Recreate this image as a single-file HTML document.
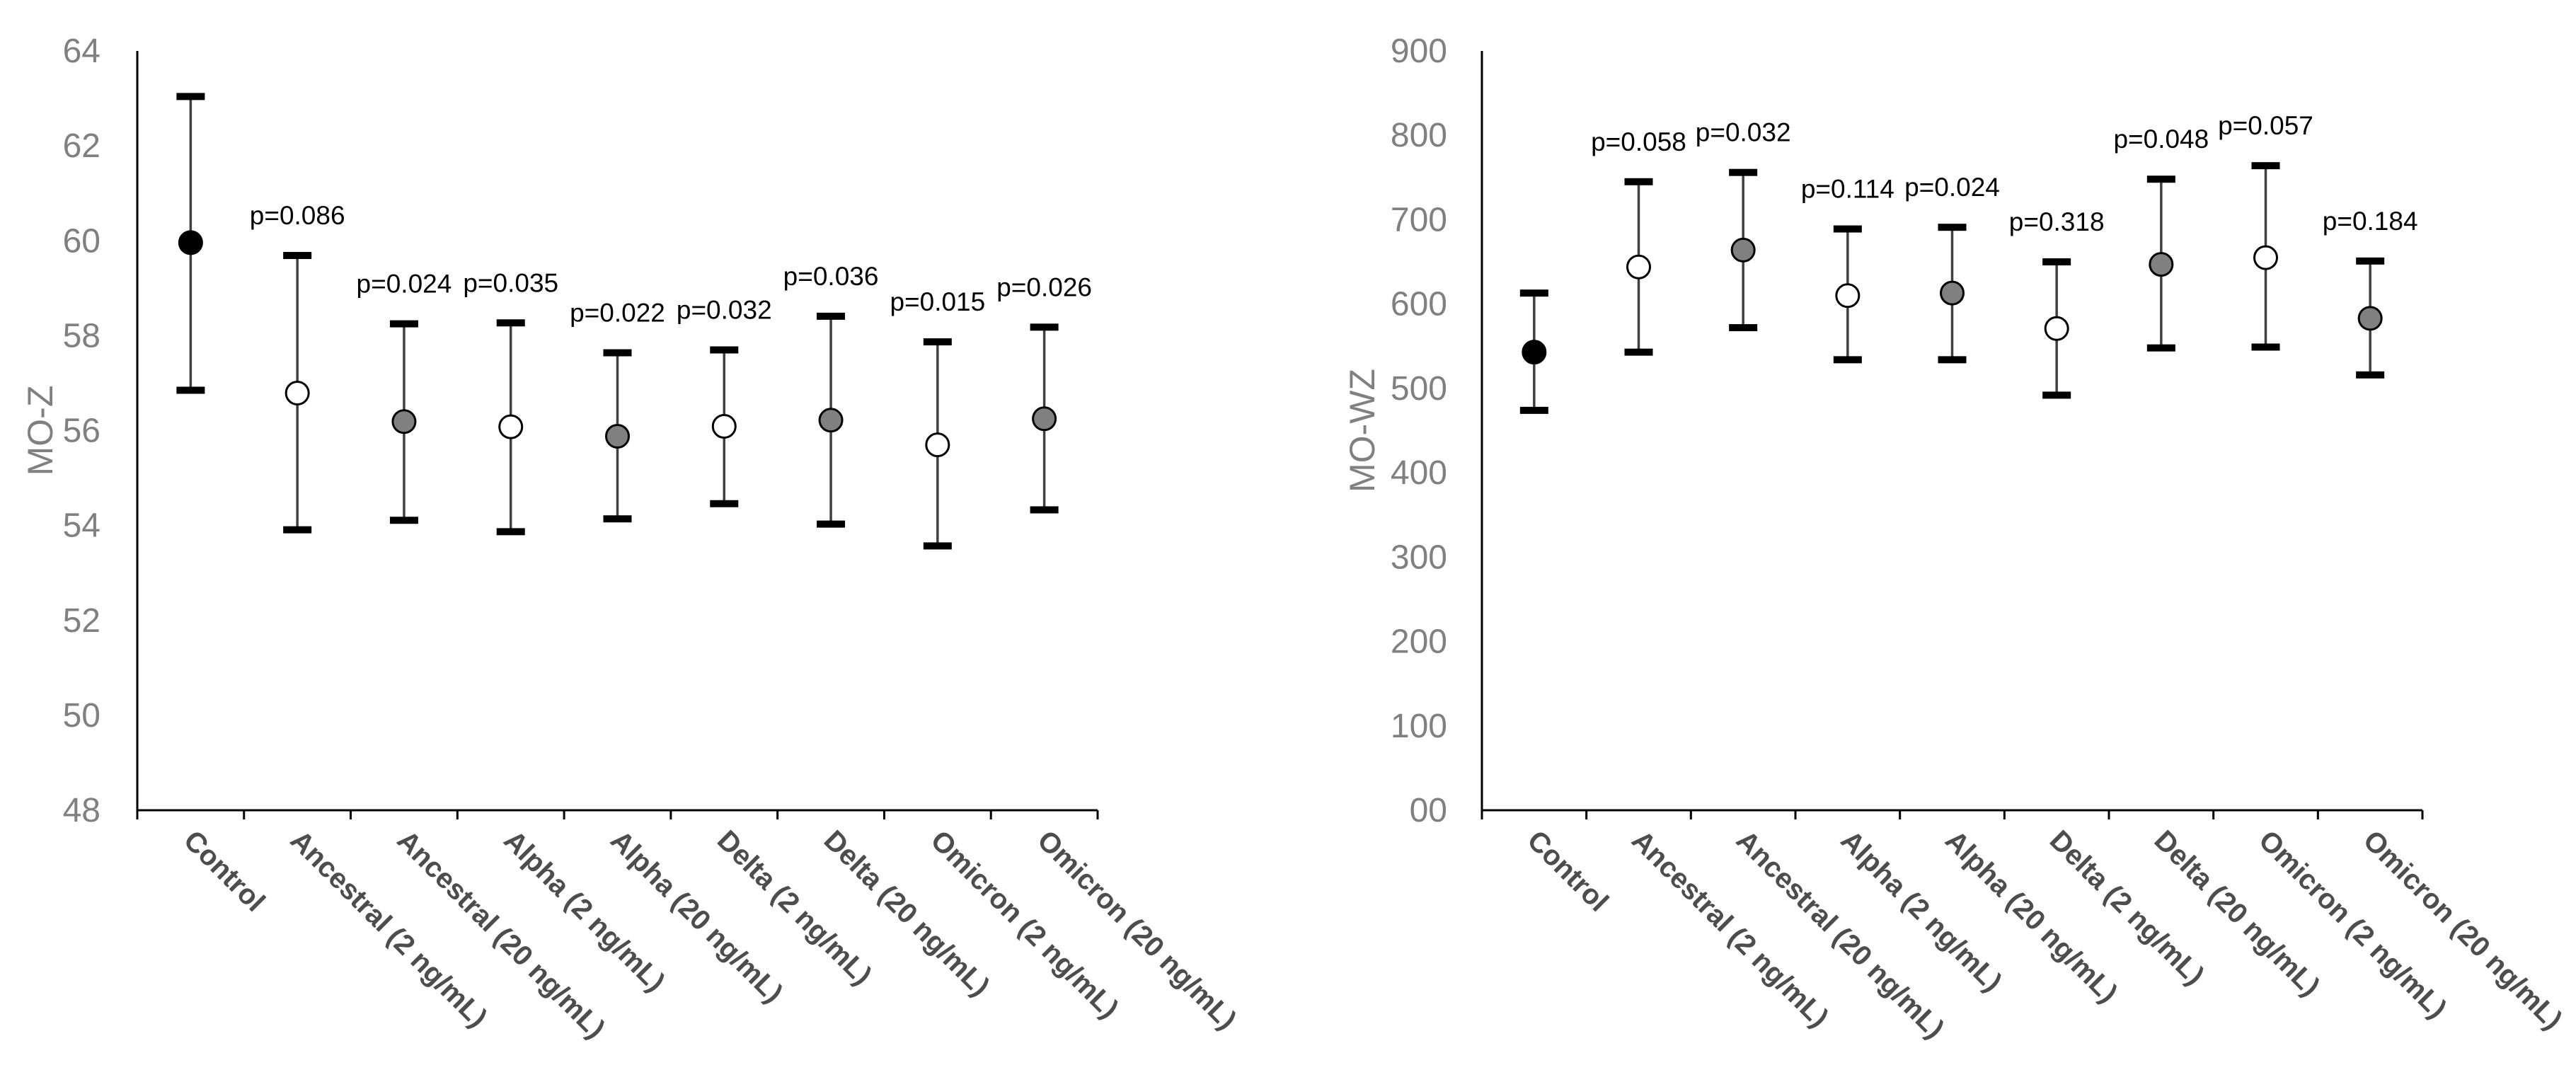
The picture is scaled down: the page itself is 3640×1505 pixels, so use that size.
<!DOCTYPE html>
<html><head><meta charset="utf-8"><style>
html,body{margin:0;padding:0;background:#fff;}
svg{display:block;}
text{font-family:"Liberation Sans",sans-serif;}
</style></head><body>
<svg id="chart" width="3640" height="1505" viewBox="0 0 3640 1505" xmlns="http://www.w3.org/2000/svg"></svg>
<script>
const categories = ["Control","Ancestral (2 ng/mL)","Ancestral (20 ng/mL)","Alpha (2 ng/mL)","Alpha (20 ng/mL)","Delta (2 ng/mL)","Delta (20 ng/mL)","Omicron (2 ng/mL)","Omicron (20 ng/mL)"];
const markerFill = ["#000000","#ffffff","#808080","#ffffff","#808080","#ffffff","#808080","#ffffff","#808080"];
const mozMean = [59.96,56.79,56.19,56.08,55.88,56.09,56.22,55.70,56.25];
const mozUpper = [63.04,59.69,58.25,58.27,57.64,57.70,58.41,57.87,58.18];
const mozLower = [56.85,53.91,54.11,53.87,54.14,54.46,54.03,53.57,54.33];
const mozP = ["","p=0.086","p=0.024","p=0.035","p=0.022","p=0.032","p=0.036","p=0.015","p=0.026"];
const mozTicks = [48,50,52,54,56,58,60,62,64];
const mozTickLabels = ["48","50","52","54","56","58","60","62","64"];
const mowzMean = [543,644,664,610,613,571,647,655,583];
const mowzUpper = [613,745,756,689,691,650,748,764,651];
const mowzLower = [474,543,572,534,534,492,548,549,516];
const mowzP = ["","p=0.058","p=0.032","p=0.114","p=0.024","p=0.318","p=0.048","p=0.057","p=0.184"];
const mowzTicks = [0,100,200,300,400,500,600,700,800,900];
const mowzTickLabels = ["00","100","200","300","400","500","600","700","800","900"];

const NS = "http://www.w3.org/2000/svg";
const svg = document.getElementById("chart");
function mk(tag, attrs, parent){
  const e = document.createElementNS(NS, tag);
  for (const k in attrs) e.setAttribute(k, attrs[k]);
  (parent||svg).appendChild(e);
  return e;
}
function drawChart(cfg){
  const g = mk("g", {});
  
  
  const x0 = cfg.x0, x1 = cfg.x1, yTop = 72, yBot = 1145;
  const yScale = v => yBot - (v - cfg.min) / (cfg.max - cfg.min) * (yBot - yTop);
  const bw = (x1 - x0) / categories.length;
  const xScale = i => x0 + bw * (i + 0.5);
  const ya = mk("line", {x1:x0, y1:yTop, x2:x0, y2:yBot, stroke:"#000", "stroke-width":3}, g);
  
  
  const xa = mk("line", {x1:x0-1.5, y1:yBot, x2:x1, y2:yBot, stroke:"#000", "stroke-width":3}, g);
  
  
  for (let i = 0; i <= categories.length; i++){
    const tx = x0 + bw * i;
    const tk = mk("line", {x1:tx, y1:yBot, x2:tx, y2:yBot+13, stroke:"#000", "stroke-width":3}, g);
    
    
  }
  cfg.ticks.forEach((t, i) => {
    const tl = mk("text", {x:cfg.labelX, y:yScale(t)+16, "text-anchor":"end", "font-size":48, fill:"#808080"}, g);
    tl.textContent = cfg.tickLabels[i];
    
    
  });
  const yt = mk("text", {x:0, y:0, "text-anchor":"middle", "font-size":50, fill:"#808080", transform:`translate(${cfg.titleX},${(yTop+yBot)/2}) rotate(-90)`}, g);
  yt.textContent = cfg.title;
  
  
  categories.forEach((c, i) => {
    const cx = xScale(i);
    const cl = mk("text", {x:0, y:0, "font-size":40, "font-weight":"bold", fill:"#4d4d4d", transform:`translate(${cx-12},${yBot+45}) rotate(45)`}, g);
    cl.textContent = c;
    
    
    const yu = yScale(cfg.upper[i]), yl = yScale(cfg.lower[i]), ym = yScale(cfg.mean[i]);
    const st = mk("line", {x1:cx, y1:yu, x2:cx, y2:yl, stroke:"#404040", "stroke-width":3.5}, g);
    
    
    const cu = mk("rect", {x:cx-20, y:yu-5, width:40, height:10, fill:"#000"}, g);
    
    
    const cd = mk("rect", {x:cx-20, y:yl-5, width:40, height:10, fill:"#000"}, g);
    
    
    const pt = mk("circle", {cx:cx, cy:ym, r:16, fill:markerFill[i], stroke:"#000", "stroke-width":3}, g);
    
    
    if (cfg.p[i]){
      const pl = mk("text", {x:cx, y:yu-44, "text-anchor":"middle", "font-size":37, fill:"#000"}, g);
      pl.textContent = cfg.p[i];
      
      
    }
  });
}
drawChart({name:"mo-z-chart", x0:194, x1:1551, min:48, max:64, ticks:mozTicks, tickLabels:mozTickLabels, labelX:142, titleX:74, title:"MO-Z", mean:mozMean, upper:mozUpper, lower:mozLower, p:mozP});
drawChart({name:"mo-wz-chart", x0:2094, x1:3423, min:0, max:900, ticks:mowzTicks, tickLabels:mowzTickLabels, labelX:2045, titleX:1942, title:"MO-WZ", mean:mowzMean, upper:mowzUpper, lower:mowzLower, p:mowzP});
</script>
</body></html>
